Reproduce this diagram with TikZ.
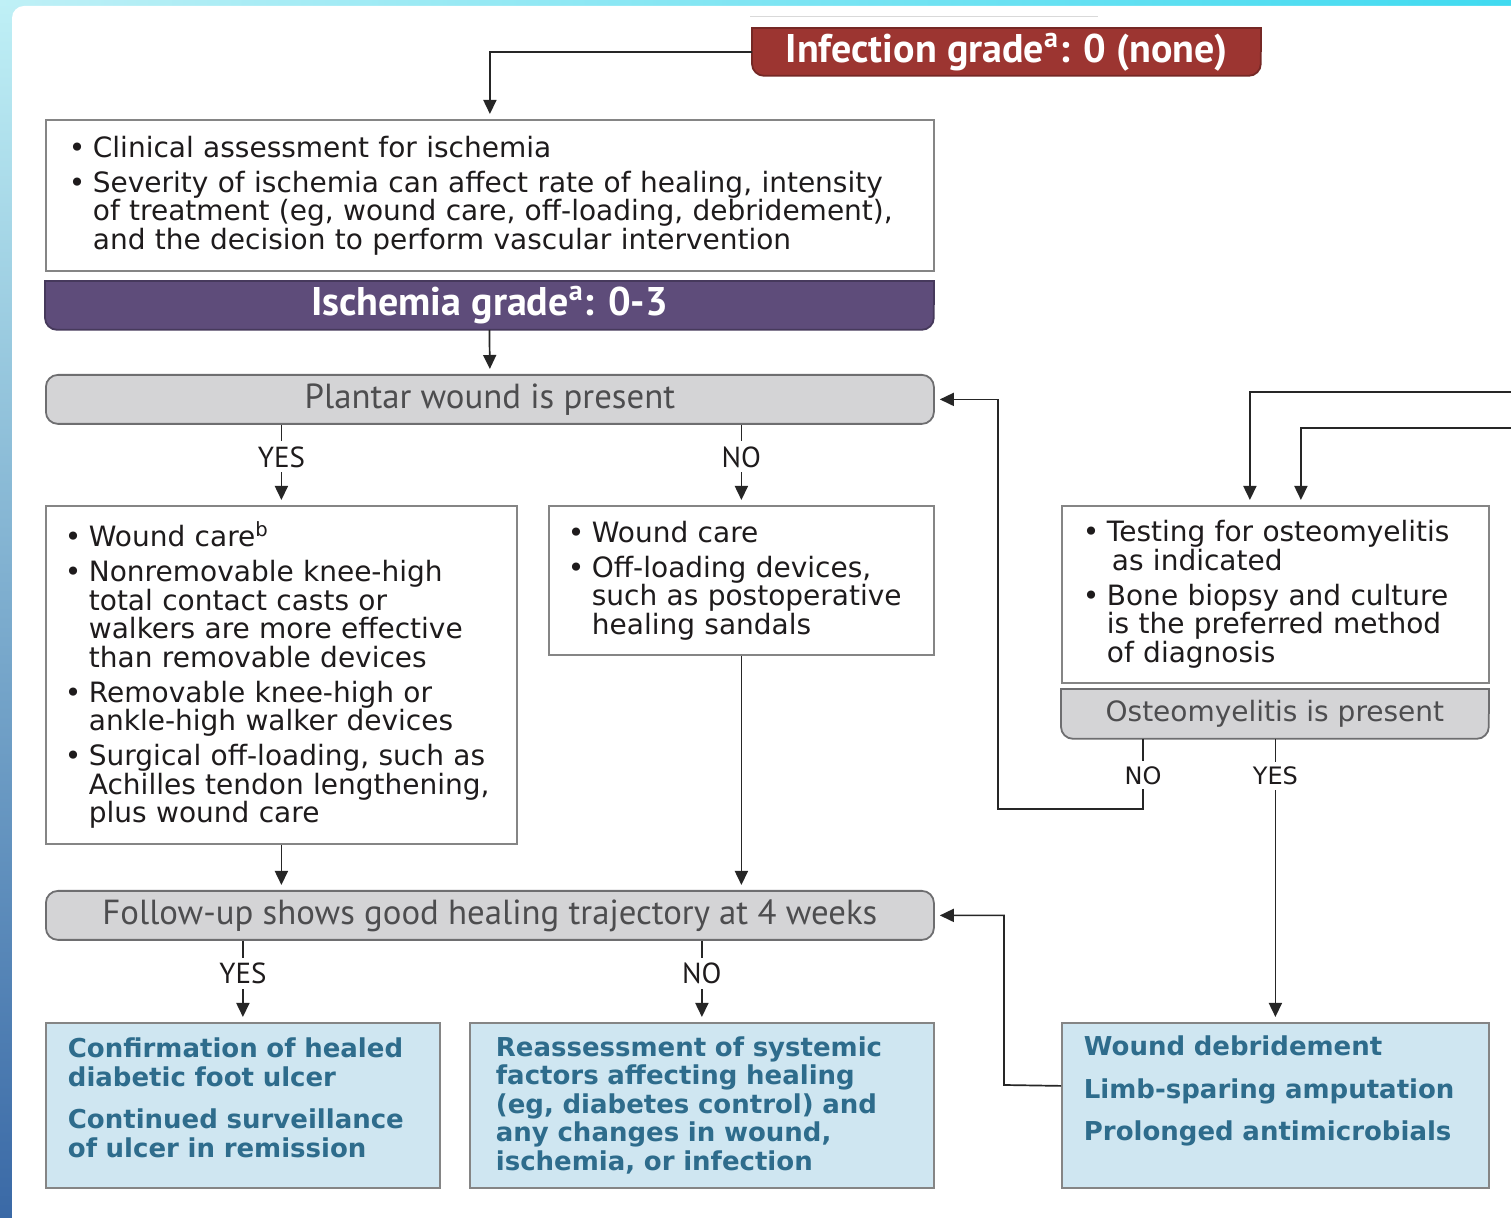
\documentclass[tikz,border=0pt]{standalone}
\usepackage{fontspec}
\setmainfont{DejaVu Sans}
\newfontfamily\headfont{PT Sans}
\usepackage{tikz}
\usetikzlibrary{arrows.meta}
\usetikzlibrary{backgrounds}

\definecolor{infred}{HTML}{9C3531}
\definecolor{ischpurple}{HTML}{5E4C7A}
\definecolor{barfill}{HTML}{D4D4D6}
\definecolor{barline}{HTML}{6E6E70}
\definecolor{bartext}{HTML}{4D4D4F}
\definecolor{outfill}{HTML}{CFE6F1}
\definecolor{outtext}{HTML}{2E6C8C}
\definecolor{boxline}{HTML}{858585}
\definecolor{inktext}{HTML}{1E1B1C}
\definecolor{edgelight}{HTML}{BFF0F6}
\definecolor{edgemid}{HTML}{98CCE4}
\definecolor{edgeblue}{HTML}{3A69A6}
\definecolor{edgecyan}{HTML}{3FDAF0}

% bullet and continuation line
\newcommand{\bitem}{\makebox[12pt][l]{\textbullet}}
\newcommand{\bcont}{\hspace*{12pt}}
% bar with rounded bottom corners only
\newcommand{\flattop}[3]{%
  \filldraw[fill=#2, draw=#3, line width=0.9pt, rounded corners=6pt] (#1.north west) rectangle (#1.south east);
  \fill[#2] (#1.north west) rectangle (#1.east);
  \draw[#3, line width=0.9pt] (#1.east) -- (#1.north east) -- (#1.north west) -- (#1.west);
}

\tikzset{
  flowline/.style={draw=black!85, line width=0.85pt},
  flowarrow/.style={flowline, -{Triangle[length=7pt,width=6.5pt]}, shorten >=2.5pt},
  bulletbox/.style={anchor=north west, draw=boxline, line width=0.9pt, fill=white, inner ysep=0pt, text=inktext, font=\fontsize{14pt}{14.25pt}\selectfont},
  outcomebox/.style={anchor=north west, draw=boxline, line width=0.9pt, fill=outfill, inner ysep=0pt, text=outtext, font=\bfseries\fontsize{13pt}{14.25pt}\selectfont},
  gradebar/.style={anchor=north west, inner sep=0pt, text=white, font=\headfont\bfseries\fontsize{20pt}{22pt}\selectfont},
  querybar/.style={anchor=north west, draw=barline, line width=0.9pt, fill=barfill, rounded corners=6pt, inner sep=0pt, text=bartext, font=\headfont\fontsize{17.4pt}{19pt}\selectfont},
  answer/.style={fill=white, inner xsep=1pt, inner ysep=2.5pt, text=inktext, font=\headfont\fontsize{14.5pt}{14.5pt}\selectfont},
  answerwide/.style={answer, font=\fontsize{12pt}{12pt}\selectfont},
}

\begin{document}
\begin{tikzpicture}[x=0.5pt, y=-0.5pt]
\useasboundingbox (0,0) rectangle (1511,1218);
% frame and card
\begin{scope}[on background layer]
\clip (0,0) rectangle (1511,1218);
\shade[top color=edgelight, middle color=edgemid, bottom color=edgeblue] (0,0) rectangle (1511,1218);
\shade[left color=edgelight, right color=edgecyan] (0,0) rectangle (1511,6);
\fill[white, rounded corners=6pt] (12,6) rectangle (1540,1250);
\end{scope}
\draw[black!15, line width=0.5pt] (750,17) -- (1098,17);

% grade bars and questions
\node[gradebar, minimum width=254pt, minimum height=23.5pt] (infect) at (752,28) {Infection grade\textsuperscript{a}: 0 (none)};
\node[bulletbox, minimum width=444pt, minimum height=75.5pt, text width=421pt, inner xsep=11.5pt] (clinic) at (45,119)
  {\bitem Clinical assessment for ischemia\\[3.25pt]
   \bitem Severity of ischemia can affect rate of healing, intensity\\
   \bcont of treatment (eg, wound care, off-loading, debridement),\\
   \bcont and the decision to perform vascular intervention};
\node[gradebar, minimum width=444pt, minimum height=24pt] (ischem) at (45,281) {Ischemia grade\textsuperscript{a}: 0-3};
\node[querybar, minimum width=444pt, minimum height=24.5pt] (plantar) at (45,374) {Plantar wound is present};

% off-loading boxes
\node[bulletbox, minimum width=235.5pt, minimum height=169pt, text width=216.5pt, inner xsep=9.5pt] (offyes) at (45,505)
  {\bitem Wound care\textsuperscript{b}\\[3.25pt]
   \bitem Nonremovable knee-high\\
   \bcont total contact casts or\\
   \bcont walkers are more effective\\
   \bcont than removable devices\\[3.25pt]
   \bitem Removable knee-high or\\
   \bcont ankle-high walker devices\\[3.25pt]
   \bitem Surgical off-loading, such as\\
   \bcont Achilles tendon lengthening,\\
   \bcont plus wound care};
\node[bulletbox, minimum width=192.5pt, minimum height=74.5pt, text width=173.5pt, inner xsep=9.5pt] (offno) at (548,505)
  {\bitem Wound care\\[3.25pt]
   \bitem Off-loading devices,\\
   \bcont such as postoperative\\
   \bcont healing sandals};

% osteomyelitis
\node[bulletbox, minimum width=213.5pt, minimum height=88.5pt, text width=192.5pt, inner xsep=10.5pt] (osttest) at (1061,505)
  {\bitem Testing for osteomyelitis\\
   \hspace*{14.5pt}as indicated\\[3.25pt]
   \bitem Bone biopsy and culture\\
   \bcont is the preferred method\\
   \bcont of diagnosis};
\node[anchor=north west, minimum width=213.5pt, minimum height=24.5pt, inner sep=0pt, text=bartext, font=\fontsize{14pt}{16pt}\selectfont] (osteo) at (1061,689) {Osteomyelitis is present};

% follow-up and outcomes
\node[querybar, minimum width=444pt, minimum height=24.5pt] (follow) at (45,890) {Follow-up shows good healing trajectory at 4 weeks};
\node[outcomebox, minimum width=197pt, minimum height=82.5pt, text width=175pt, inner xsep=11pt] (healed) at (45,1022)
  {Confirmation of healed\\
   diabetic foot ulcer\\[7pt]
   Continued surveillance\\
   of ulcer in remission\par\vspace*{7.5pt}};
\node[outcomebox, minimum width=232pt, minimum height=82.5pt, text width=206pt, inner xsep=13pt] (reassess) at (469,1022)
  {Reassessment of systemic\\
   factors affecting healing\\
   (eg, diabetes control) and\\
   any changes in wound,\\
   ischemia, or infection};
\node[outcomebox, minimum width=213.5pt, minimum height=82.5pt, text width=191.5pt, inner xsep=11pt] (treat) at (1061,1022)
  {Wound debridement\\[7pt]
   Limb-sparing amputation\\[7pt]
   Prolonged antimicrobials\par\vspace*{14pt}};

% bars with flat tops
\begin{scope}[on background layer]
\flattop{infect}{infred}{infred!75!black}
\flattop{ischem}{ischpurple}{ischpurple!75!black}
\flattop{osteo}{barfill}{barline}
\end{scope}

% bend points
\coordinate (inA) at (1511,392);
\coordinate (inB) at (1511,428);
\coordinate (ostno) at (1143,809);
\coordinate (ostback) at (998,809);
\coordinate (trtback) at (1004,1085);

% connectors
\draw[flowarrow] (infect.west) -| (clinic.north);
\draw[flowarrow] (ischem.south) -- (plantar.north);
\draw[flowarrow] (plantar.south -| offyes.north) -- node[answer, pos=0.4] {YES} (offyes.north);
\draw[flowarrow] (plantar.south -| offno.north) -- node[answer, pos=0.4] {NO} (offno.north);
\draw[flowarrow] (offyes.south) -- (offyes.south |- follow.north);
\draw[flowarrow] (offno.south) -- (offno.south |- follow.north);
\draw[flowarrow] (follow.south -| healed.north) -- node[answer, pos=0.4] {YES} (healed.north);
\draw[flowarrow] (follow.south -| reassess.north) -- node[answer, pos=0.4] {NO} (reassess.north);
\draw[flowarrow] (inA) -| ([xshift=-12.75pt]osttest.north);
\draw[flowarrow] (inB) -| ([xshift=12.75pt]osttest.north);
\draw[flowarrow] (osteo.south -| ostno) -- node[answerwide, pos=0.52] {NO} (ostno) -- (ostback) |- (plantar.east);
\draw[flowarrow] (osteo.south -| treat.north) -- node[answerwide, pos=0.13] {YES} (treat.north);
\draw[flowarrow] ([yshift=9.75pt]treat.west) -- (trtback) |- (follow.east);
\end{tikzpicture}
\end{document}
